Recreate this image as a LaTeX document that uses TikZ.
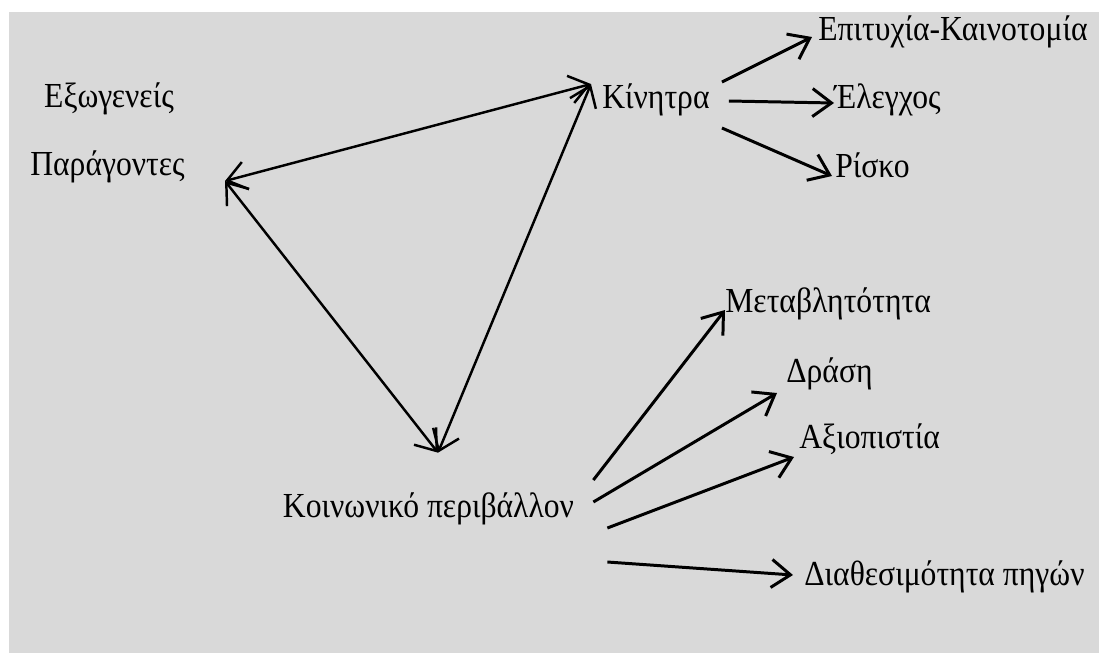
\documentclass[tikz,border=0pt]{standalone}
\usepackage{fontspec}
\setmainfont{Liberation Serif}[FakeStretch=0.9]
\usepackage{tikz}
\usetikzlibrary{arrows.meta, positioning, calc}
\definecolor{bggray}{RGB}{217,217,217}
\tikzset{
  lbl/.style={inner sep=0pt, text height=0.44cm, text depth=0.16cm, font=\fontsize{20}{24}\selectfont},
  link/.style={line width=1.7pt},
  tri/.style={line width=1.4pt}
}

\begin{document}
\begin{tikzpicture}[x=0.02cm, y=-0.02cm, >={Straight Barb[length=0.38cm, width=0.56cm]}]
    \useasboundingbox (0,0) rectangle (1099,653);
    \fill[bggray] (9,12) rectangle (1099,653);

		\node[lbl, anchor=base]      (ext) at (109,107) {Εξωγενείς};
		\node[lbl, anchor=base]      (par) at (107.5,175) {Παράγοντες};
		\node[lbl, anchor=base west] (kin) at (602,108) {Κίνητρα};
		\node[lbl, anchor=base west] (epi) at (818,40) {Επιτυχία-Καινοτομία};
		\node[lbl, anchor=base west] (ele) at (834,108) {Έλεγχος};
		\node[lbl, anchor=base west] (ris) at (835,177) {Ρίσκο};
		\node[lbl, anchor=base]      (kp) at (428.5,517) {Κοινωνικό περιβάλλον};
		\node[lbl, anchor=base west] (met) at (725,312) {Μεταβλητότητα};
		\node[lbl, anchor=base west] (dra) at (786,382) {Δράση};
		\node[lbl, anchor=base west] (axi) at (799,448) {Αξιοπιστία};
		\node[lbl, anchor=base west] (dia) at (804,585) {Διαθεσιμότητα πηγών};

    % corners of the triangle
    \coordinate (par-c) at ([shift={(40,13)}]par.east);
    \coordinate (kin-c) at ([shift={(-11,-17)}]kin.west);
    \coordinate (kp-c)  at ([shift={(9.5,-42)}]kp.north);

    \path[<->, tri]
      (par-c) edge (kin-c)
      (par-c) edge (kp-c)
      (kin-c) edge (kp-c);

    \path[->, link]
      ([shift={(12,-19)}]kin.east) edge ([shift={(-6,4)}]epi.west)
      ([shift={(19,0)}]kin.east)   edge ([shift={(0,2)}]ele.west)
      ([shift={(12,27)}]kin.east)  edge ([shift={(-3,6)}]ris.west)
      ([shift={(19,-30)}]kp.east)  edge ([shift={(0,5)}]met.west)
      ([shift={(19,-8)}]kp.east)   edge ([shift={(-9,18)}]dra.west)
      ([shift={(33,18)}]kp.east)   edge ([shift={(-5,16)}]axi.west)
      ([shift={(33,52)}]kp.east)   edge ([shift={(-11,-3)}]dia.west);
\end{tikzpicture}
\end{document}
